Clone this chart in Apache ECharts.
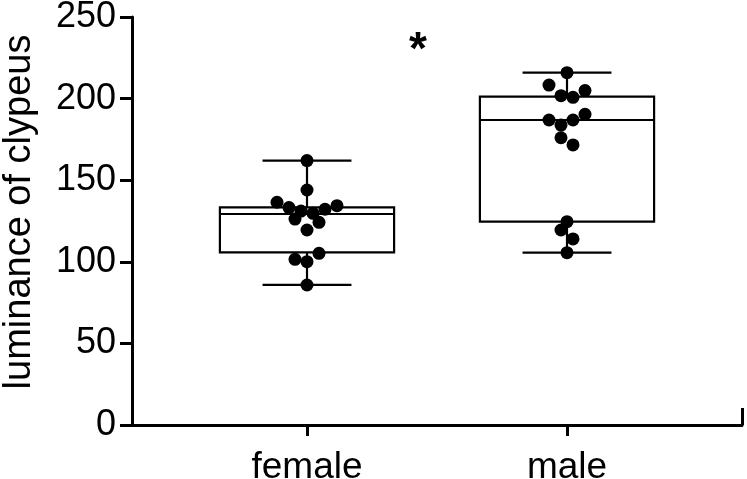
<!DOCTYPE html>
<html>
<head>
<meta charset="utf-8">
<script src="https://cdn.jsdelivr.net/npm/echarts@6/dist/echarts.min.js"></script>
<style>html,body{margin:0;padding:0;background:#fff}#c{width:747px;height:479px}</style>
</head>
<body>
<div id="c"></div>
<script>
// ---- data ----
var categories = ['female', 'male'];
var femaleValues = [162, 144, 136.5, 133.2, 131.1, 129.7, 132.2, 134.4, 126.2, 124.2, 119.5, 105.2, 101.5, 100.1, 85.8];
var maleValues = [215.9, 208.3, 204.9, 201.8, 200.8, 186.9, 183.8, 186.9, 190.4, 176, 171.6, 124.6, 119.5, 114, 105.6];
// box stats: [min, Q1, median, Q3, max]
var femaleBox = [85.8, 105.8, 129.3, 133.4, 162];
var maleBox = [105.6, 124.6, 186.9, 201.2, 215.9];
var yTicks = [0, 50, 100, 150, 200, 250];
var yTitle = 'luminance of clypeus';
var sigLabel = '*';
// beeswarm horizontal spread of dots (pixels)
var femaleJitter = [0, 0, -30, -18, -6, 6, 18, 30, -12, 12, 0, 12, -12, 0, 0];
var maleJitter = [0, -18, 18, -6, 6, -18, -6, 6, 18, -6, 6, 0, -6, 6, 0];

var FONT = '"Liberation Sans", Arial, Helvetica, sans-serif';
var chart = echarts.init(document.getElementById('c'), null, {renderer: 'canvas'});

function scatterData(vals, jit, ci) {
  return vals.map(function (v, i) {
    return {value: [ci, v], symbolOffset: [jit[i], 0]};
  });
}

var boxData = [[0].concat(femaleBox), [1].concat(maleBox)];

var option = {
  animation: false,
  backgroundColor: '#fff',
  grid: [
    {left: 132, right: 5, top: 17, bottom: 54, outerBoundsMode: 'none', containLabel: false},
    {left: 177, width: 520, top: 17, bottom: 54, outerBoundsMode: 'none', containLabel: false}
  ],
  xAxis: [
    {
      type: 'value', gridIndex: 0, min: 0, max: 1,
      splitLine: {show: false},
      axisLine: {show: true, lineStyle: {color: '#000', width: 3}},
      axisTick: {show: true, inside: true, length: 17, customValues: [1], lineStyle: {color: '#000', width: 3}},
      axisLabel: {show: false}
    },
    {
      type: 'category', gridIndex: 1, data: categories, boundaryGap: true,
      axisLine: {show: false},
      axisTick: {show: true, alignWithLabel: true, length: 11, lineStyle: {color: '#000', width: 3}},
      axisLabel: {show: true, margin: 24, color: '#000', fontFamily: FONT, fontSize: 37}
    }
  ],
  yAxis: [
    {
      type: 'value', gridIndex: 0, min: 0, max: 250, interval: 50,
      splitLine: {show: false},
      axisLine: {show: true, lineStyle: {color: '#000', width: 3}},
      axisTick: {show: true, length: 12, lineStyle: {color: '#000', width: 3}},
      axisLabel: {margin: 16, color: '#000', fontFamily: FONT, fontSize: 36,
        customValues: yTicks}
    },
    {
      type: 'value', gridIndex: 1, min: 0, max: 250, show: false
    }
  ],
  series: [
    {
      type: 'custom', xAxisIndex: 1, yAxisIndex: 1,
      data: boxData,
      encode: {x: 0, y: [1, 2, 3, 4, 5]},
      renderItem: function (params, api) {
        var ci = api.value(0);
        var band = api.size([1, 0])[0];
        var c = api.coord([ci, 0])[0];
        var yMin = api.coord([ci, api.value(1)])[1];
        var yQ1 = api.coord([ci, api.value(2)])[1];
        var yMed = api.coord([ci, api.value(3)])[1];
        var yQ3 = api.coord([ci, api.value(4)])[1];
        var yMax = api.coord([ci, api.value(5)])[1];
        var hw = band * 0.335;
        var cw = band * 0.171;
        var st = {stroke: '#000', lineWidth: 2.2, fill: null};
        return {
          type: 'group',
          children: [
            {type: 'rect', shape: {x: c - hw, y: yQ3, width: 2 * hw, height: yQ1 - yQ3}, style: {stroke: '#000', lineWidth: 2.2, fill: 'rgba(0,0,0,0)'}},
            {type: 'line', shape: {x1: c - hw, y1: yMed, x2: c + hw, y2: yMed}, style: st},
            {type: 'line', shape: {x1: c, y1: yQ3, x2: c, y2: yMax}, style: st},
            {type: 'line', shape: {x1: c, y1: yQ1, x2: c, y2: yMin}, style: st},
            {type: 'line', shape: {x1: c - cw, y1: yMax, x2: c + cw, y2: yMax}, style: st},
            {type: 'line', shape: {x1: c - cw, y1: yMin, x2: c + cw, y2: yMin}, style: st}
          ]
        };
      },
      z: 2
    },
    {
      type: 'scatter', xAxisIndex: 1, yAxisIndex: 1,
      symbol: 'circle', symbolSize: 13,
      itemStyle: {color: '#000', opacity: 1},
      data: scatterData(femaleValues, femaleJitter, 0),
      z: 3
    },
    {
      type: 'scatter', xAxisIndex: 1, yAxisIndex: 1,
      symbol: 'circle', symbolSize: 13,
      itemStyle: {color: '#000', opacity: 1},
      data: scatterData(maleValues, maleJitter, 1),
      z: 3
    }
  ],
  graphic: [
    {
      type: 'text', x: 20, y: 212, rotation: Math.PI / 2,
      style: {text: yTitle, fill: '#000', font: '38px ' + FONT, textAlign: 'center', textVerticalAlign: 'middle'}
    },
    {
      type: 'text', x: 418, y: 51,
      style: {text: sigLabel, fill: '#000', font: 'bold 46px ' + FONT, textAlign: 'center', textVerticalAlign: 'middle'}
    }
  ]
};
chart.setOption(option);
</script>
</body>
</html>
